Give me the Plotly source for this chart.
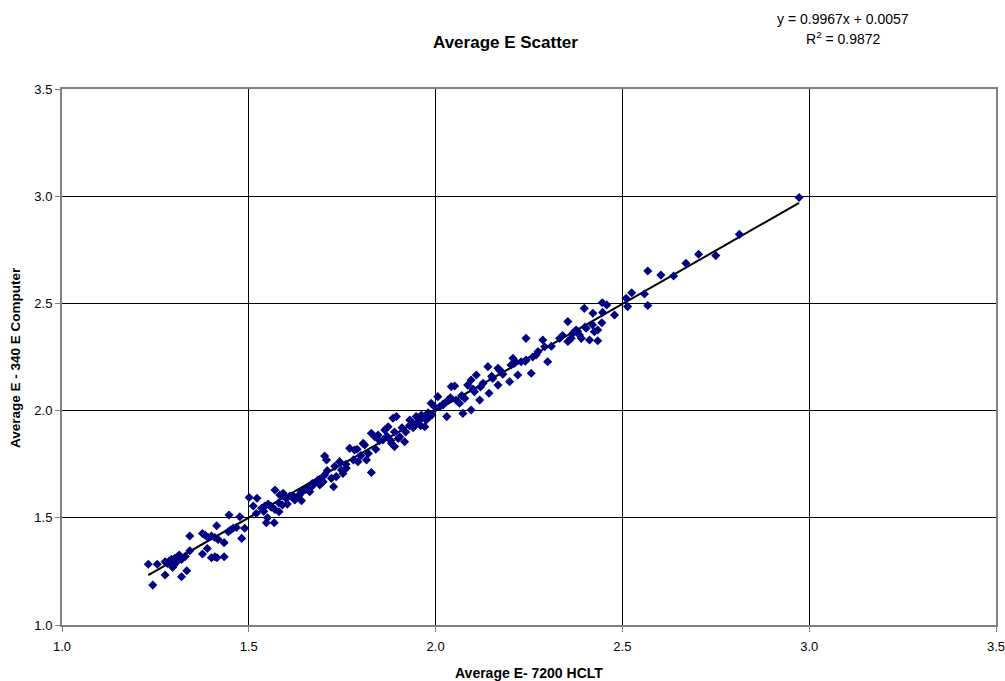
import plotly.graph_objects as go

# Average E - 7200 HCLT (x) vs Average E - 340 E Computer (y)
x_vals = [
    1.231, 1.243, 1.255, 1.276, 1.282, 1.287, 1.293, 1.298, 1.302, 1.309, 1.314, 1.320, 1.296, 1.276, 1.320,
    1.334, 1.342, 1.342, 1.376, 1.383, 1.391, 1.400, 1.409, 1.418, 1.376, 1.389, 1.400, 1.409, 1.415, 1.434,
    1.414, 1.434, 1.447, 1.445, 1.451, 1.458, 1.467, 1.481, 1.489, 1.547, 1.568,
    1.476, 1.501, 1.522, 1.512, 1.534, 1.543, 1.552, 1.561, 1.570, 1.581, 1.570, 1.583, 1.592, 1.603, 1.610,
    1.623, 1.627, 1.636, 1.641, 1.650, 1.663, 1.668, 1.676, 1.685, 1.690, 1.699, 1.703, 1.703, 1.708,
    1.721, 1.727, 1.734, 1.743, 1.748, 1.752, 1.761, 1.792, 1.815, 1.828,
    1.770, 1.783, 1.806, 1.828, 1.837, 1.846, 1.859, 1.864, 1.873, 1.886, 1.895, 1.882, 1.890, 1.904, 1.917,
    1.931, 1.939, 1.948, 1.957, 1.962, 1.971, 1.975,
    1.984, 1.988, 1.997, 2.006, 2.011, 2.020, 2.030, 2.033, 2.055, 2.064, 2.073, 2.078, 2.095, 2.118, 2.104, 2.143,
    2.042, 2.051, 2.086, 2.095, 2.109, 2.127, 2.140, 2.153, 2.167, 2.171, 2.176, 2.167, 2.198, 2.207, 2.214,
    2.220, 2.229, 2.242, 2.202, 2.242, 2.256, 2.269, 2.274,
    2.287, 2.292, 2.300, 2.332, 2.354, 2.354, 2.363, 2.367, 2.376, 2.385, 2.390, 2.403, 2.412, 2.425, 2.434,
    2.434, 2.445, 2.447, 2.479, 2.421,
    2.398, 2.446, 2.458, 2.510, 2.514, 2.525, 2.559, 2.568, 2.568, 2.603, 2.637, 2.670, 2.704, 2.750, 2.813, 2.973,
    1.85, 1.87, 1.89, 1.91, 1.92, 1.93, 1.94, 1.95, 1.96, 1.97, 1.98, 1.99, 1.90, 1.88, 1.96,
    1.52, 1.54, 1.56, 1.58, 1.59, 1.55, 1.60, 1.62, 1.64, 1.66, 1.67, 1.69,
    1.29, 1.30, 1.31, 1.33,
    2.02, 2.04, 2.07, 2.10, 2.12, 2.15, 2.18, 2.21, 2.24, 2.26,
    1.71, 1.73, 1.76, 1.78, 1.80, 1.82, 1.84, 1.79, 1.81,
    2.31, 2.34, 2.38, 2.40, 2.42,
]
y_vals = [
    1.283, 1.186, 1.283, 1.295, 1.287, 1.298, 1.306, 1.295, 1.311, 1.318, 1.326, 1.306, 1.269, 1.233, 1.225,
    1.253, 1.415, 1.346, 1.427, 1.419, 1.408, 1.415, 1.408, 1.399, 1.331, 1.357, 1.314, 1.318, 1.314, 1.318,
    1.463, 1.384, 1.513, 1.435, 1.443, 1.451, 1.455, 1.404, 1.451, 1.477, 1.477,
    1.505, 1.595, 1.591, 1.555, 1.544, 1.555, 1.564, 1.552, 1.539, 1.528, 1.630, 1.606, 1.614, 1.564, 1.602,
    1.583, 1.595, 1.606, 1.580, 1.630, 1.622, 1.645, 1.661, 1.676, 1.653, 1.668, 1.700, 1.788, 1.770,
    1.684, 1.645, 1.692, 1.762, 1.723, 1.707, 1.731, 1.762, 1.770, 1.711,
    1.824, 1.816, 1.847, 1.894, 1.878, 1.886, 1.863, 1.910, 1.925, 1.964, 1.972, 1.847, 1.832, 1.878, 1.855,
    1.956, 1.941, 1.972, 1.956, 1.979, 1.925, 1.956,
    1.972, 2.034, 2.018, 2.065, 2.018, 2.026, 1.972, 2.049, 2.049, 2.034, 1.987, 2.057, 2.003, 2.049, 2.088, 2.081,
    2.112, 2.115, 2.119, 2.143, 2.166, 2.127, 2.205, 2.150, 2.197, 2.189, 2.182, 2.119, 2.135, 2.244, 2.228,
    2.166, 2.228, 2.236, 2.213, 2.337, 2.174, 2.259, 2.275,
    2.329, 2.298, 2.228, 2.337, 2.415, 2.322, 2.337, 2.360, 2.376, 2.353, 2.337, 2.384, 2.329, 2.368, 2.376,
    2.326, 2.410, 2.458, 2.446, 2.454,
    2.477, 2.503, 2.493, 2.524, 2.485, 2.550, 2.544, 2.651, 2.490, 2.632, 2.628, 2.687, 2.729, 2.723, 2.822, 2.994,
    1.86, 1.88, 1.90, 1.92, 1.90, 1.93, 1.92, 1.94, 1.96, 1.97, 1.99, 1.98, 1.87, 1.86, 1.93,
    1.52, 1.53, 1.55, 1.57, 1.56, 1.50, 1.59, 1.60, 1.62, 1.64, 1.66, 1.68,
    1.30, 1.28, 1.30, 1.32,
    2.03, 2.06, 2.07, 2.10, 2.11, 2.16, 2.17, 2.22, 2.23, 2.25,
    1.72, 1.74, 1.75, 1.77, 1.79, 1.80, 1.82, 1.82, 1.84,
    2.30, 2.35, 2.37, 2.39, 2.40,
]

slope = 0.9967
intercept = 0.0057
r_squared = 0.9872
tick_vals = [1.0, 1.5, 2.0, 2.5, 3.0, 3.5]

x_line = [min(x_vals), max(x_vals)]
y_line = [slope * v + intercept for v in x_line]

FONT = "Liberation Sans, Arial, sans-serif"
W, H = 1005, 681
ML, MR, MT, MB = 62, 9, 89, 56

fig = go.Figure()
fig.add_trace(go.Scatter(
    x=x_line, y=y_line, mode="lines",
    line=dict(color="black", width=2), hoverinfo="skip", showlegend=False,
))
fig.add_trace(go.Scatter(
    x=x_vals, y=y_vals, mode="markers",
    marker=dict(symbol="diamond", size=7, color="#000080", line=dict(width=0)),
    showlegend=False,
))

axis_common = dict(
    range=[1.0, 3.5], tickvals=tick_vals, tickformat=".1f",
    showgrid=True, gridcolor="#000000", gridwidth=1,
    showline=True, linecolor="#808080", linewidth=2, mirror=True,
    ticks="outside", ticklen=5, tickcolor="#808080", tickwidth=1,
    tickfont=dict(family=FONT, size=13, color="black"),
    zeroline=False, fixedrange=True, automargin=False,
    ticklabeloverflow="allow",
)
fig.update_xaxes(**axis_common, ticklabelstandoff=3)
fig.update_yaxes(**axis_common)


def pix(px, py):
    # convert page pixel position to paper coordinates
    return (px - ML) / (W - ML - MR), (H - py - MB) / (H - MT - MB)


def note(text, px, py, size, angle=0):
    x, y = pix(px, py)
    return dict(text=text, x=x, y=y, xref="paper", yref="paper", xanchor="center",
                yanchor="middle", showarrow=False, textangle=angle,
                font=dict(size=size, family=FONT, color="black"))


fig.update_layout(
    width=W, height=H,
    margin=dict(l=ML, r=MR, t=MT, b=MB, autoexpand=False),
    paper_bgcolor="white", plot_bgcolor="white",
    font=dict(family=FONT, color="black"),
    annotations=[
        note("<b>Average E Scatter</b>", 505, 42, 17),
        note(f"y = {slope}x + {intercept}", 843, 19, 14),
        note(f"R<sup>2</sup> = {r_squared}", 843, 38, 14),
        note("<b>Average E- 7200 HCLT</b>", 529, 673, 14),
        note("<b>Average E - 340 E Computer</b>", 15, 358, 13.5, angle=-90),
    ],
)

fig.write_html(
    "out.html",
    config={"displayModeBar": False},
    post_script="document.body.style.margin='0px';document.body.style.overflow='hidden';",
)
